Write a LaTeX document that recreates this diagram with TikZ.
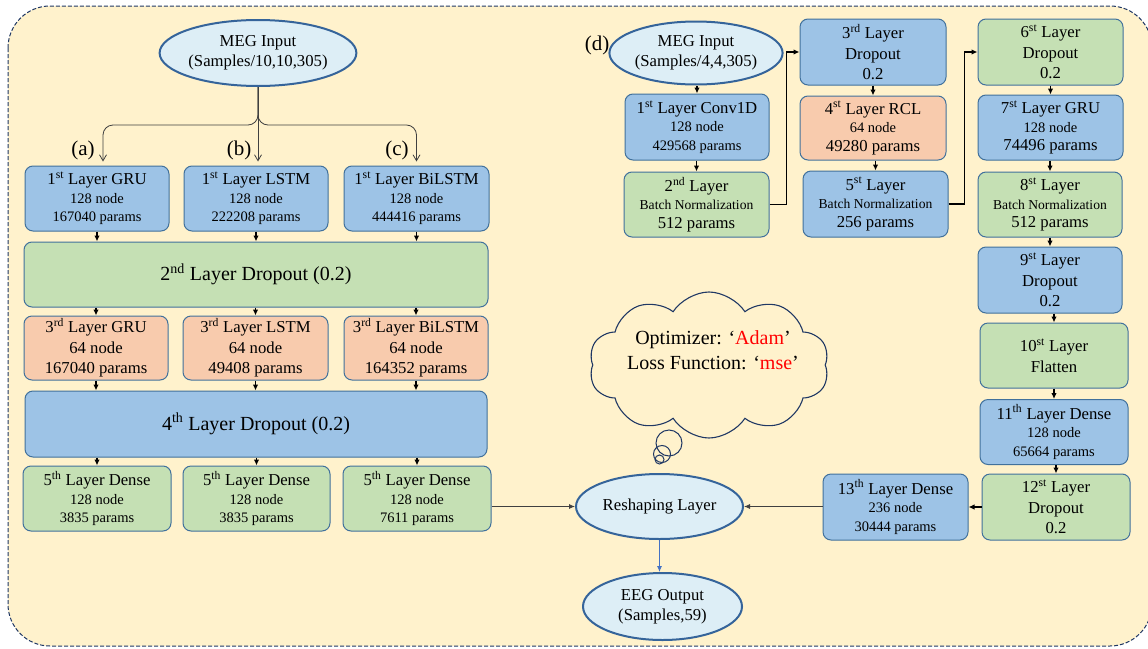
\documentclass[tikz,border=0pt]{standalone}
\usepackage{fontspec}
\setmainfont{Liberation Serif}
\usetikzlibrary{shapes.geometric,shapes.symbols,arrows.meta,calc}
\definecolor{bgc}{HTML}{FFF2CC}
\definecolor{bluef}{HTML}{9DC3E6}
\definecolor{greenf}{HTML}{C5E0B4}
\definecolor{orangef}{HTML}{F8CBAD}
\definecolor{bordc}{HTML}{41719C}
\definecolor{ellf}{HTML}{DDEEF6}
\definecolor{ellb}{HTML}{35649A}
\definecolor{navy}{HTML}{203864}
\definecolor{arrblue}{HTML}{4472C4}
\definecolor{grayln}{HTML}{404040}
\newcommand\fA[1]{{\fontsize{16.7}{20}\selectfont #1}}
\newcommand\fC[1]{{\fontsize{13.6}{17}\selectfont #1}}
\newcommand\sps[1]{\textsuperscript{#1}}
\begin{document}
\begin{tikzpicture}[x=1pt,y=-1pt,
  box/.style={rectangle, rounded corners=8pt, draw=bordc, line width=1pt, align=center, inner sep=0pt, font=\fontsize{14.5}{18.5}\selectfont},
  bbox/.style={box, fill=bluef},
  gbox/.style={box, fill=greenf},
  obox/.style={box, fill=orangef},
  big/.style={font=\fontsize{16.7}{20.5}\selectfont},
  ell/.style={ellipse, draw=ellb, line width=2pt, fill=ellf, inner sep=0pt, align=center, font=\fontsize{16.7}{20}\selectfont},
  lbl/.style={font=\fontsize{21}{24}\selectfont, inner sep=0pt},
  arr/.style={-{Latex[length=6pt,width=5.5pt]}, line width=1.3pt, black},
  brarr/.style={-{Straight Barb[length=6pt,width=7pt]}, line width=0.8pt, draw=grayln},
  garr/.style={-{Latex[length=6pt,width=5pt]}, line width=0.8pt, draw=grayln},
  barr/.style={-{Latex[length=6pt,width=5pt]}, line width=0.8pt, draw=arrblue},
]
\useasboundingbox (0,0) rectangle (1148,648);
\draw[fill=bgc, draw=navy, dash pattern=on 4pt off 2pt, line width=1pt, rounded corners=42pt] (8,6) rectangle (1152,646);

% ---------- left part ----------
\node[ell, minimum width=160, minimum height=66] (meg1) at (258,53) {MEG Input\\(Samples/10,10,305)};
\node[lbl] (la) at (83,150) {(a)};
\node[lbl] (lb) at (239,150) {(b)};
\node[lbl] (lc) at (397,150) {(c)};

\node[bbox, minimum width=144, minimum height=65] (gru1) at (97,198.5) {\fA{1\sps{st} Layer GRU}\\128 node\\167040 params};
\node[bbox, minimum width=144, minimum height=65] (lstm1) at (256,198.5) {\fA{1\sps{st} Layer LSTM}\\128 node\\222208 params};
\node[bbox, minimum width=145, minimum height=65] (bilstm1) at (416.5,198.5) {\fA{1\sps{st} Layer BiLSTM}\\128 node\\444416 params};

\node[gbox, minimum width=464, minimum height=65, font=\fontsize{20}{24}\selectfont] (drop2) at (256,274.5) {2\sps{nd} Layer Dropout (0.2)};

\node[obox, big, minimum width=144, minimum height=64] (gru3) at (96,348) {3\sps{rd} Layer GRU\\64 node\\167040 params};
\node[obox, big, minimum width=145, minimum height=64] (lstm3) at (255.5,348) {3\sps{rd} Layer LSTM\\64 node\\49408 params};
\node[obox, big, minimum width=144, minimum height=64] (bilstm3) at (416,348) {3\sps{rd} Layer BiLSTM\\64 node\\164352 params};

\node[bbox, minimum width=462, minimum height=66, font=\fontsize{20}{24}\selectfont] (drop4) at (256,424) {4\sps{th} Layer Dropout (0.2)};

\node[gbox, minimum width=148, minimum height=65] (den5a) at (97,498.5) {\fA{5\sps{th} Layer Dense}\\128 node\\3835 params};
\node[gbox, minimum width=147, minimum height=65] (den5b) at (256.5,498.5) {\fA{5\sps{th} Layer Dense}\\128 node\\3835 params};
\node[gbox, minimum width=148, minimum height=65] (den5c) at (417,498.5) {\fA{5\sps{th} Layer Dense}\\128 node\\7611 params};

% branch connectors
\coordinate (br) at (258,125);
\coordinate (tipa) at ($(gru1.north)+(6,-4)$);
\coordinate (tipc) at ($(bilstm1.north)+(0,-4)$);
\draw[brarr, rounded corners=10pt] (meg1.south) -- (meg1.south |- br) -- (tipa |- br) -- (tipa);
\draw[brarr, rounded corners=10pt] (meg1.south) -- (meg1.south |- br) -- (tipc |- br) -- (tipc);
\draw[brarr] (meg1.south) -- ($(meg1.south |- lstm1.north)+(0,-4)$);

% short arrows
\foreach \a/\b in {gru1/drop2, lstm1/drop2, bilstm1/drop2, gru3/drop4, lstm3/drop4, bilstm3/drop4}
  \draw[arr] (\a.south) -- (\a.south |- \b.north);
\foreach \a/\b in {drop2/gru3, drop2/lstm3, drop2/bilstm3, drop4/den5a, drop4/den5b, drop4/den5c}
  \draw[arr] (\b.north |- \a.south) -- (\b.north);

% ---------- right part ----------
\node[lbl] (ld) at (597,45) {(d)};
\node[ell, minimum width=160, minimum height=63] (meg2) at (696,53) {MEG Input\\(Samples/4,4,305)};
\node[bbox, minimum width=144, minimum height=66] (conv1) at (697,127) {\fA{1\sps{st} Layer Conv1D}\\128 node\\429568 params};
\node[gbox, minimum width=145, minimum height=65] (bn2) at (696.5,204.5) {\fA{2\sps{nd} Layer}\\\fC{Batch Normalization}\\\fA{512 params}};
\node[bbox, big, minimum width=146, minimum height=66] (drop3) at (873,52) {3\sps{rd} Layer\\Dropout\\0.2};
\node[obox, minimum width=146, minimum height=64] (rcl4) at (873,128) {\fA{4\sps{st} Layer RCL}\\64 node\\\fA{49280 params}};
\node[bbox, minimum width=145, minimum height=66] (bn5) at (875.5,204) {\fA{5\sps{st} Layer}\\\fC{Batch Normalization}\\\fA{256 params}};
\node[gbox, big, minimum width=145, minimum height=66] (drop6) at (1050.5,52) {6\sps{st} Layer\\Dropout\\0.2};
\node[bbox, minimum width=145, minimum height=65] (gru7) at (1050.5,127.5) {\fA{7\sps{st} Layer GRU}\\128 node\\\fA{74496 params}};
\node[gbox, minimum width=144, minimum height=65] (bn8) at (1050,204.5) {\fA{8\sps{st} Layer}\\\fC{Batch Normalization}\\\fA{512 params}};
\node[bbox, big, minimum width=144, minimum height=66] (drop9) at (1050,280) {9\sps{st} Layer\\Dropout\\0.2};
\node[gbox, big, minimum width=148, minimum height=65] (flat10) at (1054,355.5) {10\sps{st} Layer\\Flatten};
\node[bbox, minimum width=148, minimum height=65] (den11) at (1054,432) {\fA{11\sps{th} Layer Dense}\\128 node\\65664 params};
\node[gbox, big, minimum width=148, minimum height=66] (drop12) at (1056,507) {12\sps{st} Layer\\Dropout\\0.2};
\node[bbox, minimum width=145, minimum height=66] (den13) at (895.5,507) {\fA{13\sps{th} Layer Dense}\\236 node\\30444 params};

\node[ell, minimum width=167, minimum height=65] (resh) at (659.5,506.5) {Reshaping Layer};
\node[ell, minimum width=159, minimum height=67] (eeg) at (662.5,606.5) {EEG Output\\(Samples,59)};

% cloud
\node[cloud, cloud puffs=10, cloud puff arc=115, aspect=1.6, draw=navy, line width=1.1pt, fill=bgc, minimum width=240, minimum height=146, inner sep=0pt] (cl) at (709,365) {};
\node[font=\fontsize{20}{25}\selectfont, align=center] (cltxt) at (713,350) {Optimizer: `\textcolor{red}{Adam}'\\Loss Function: `\textcolor{red}{mse}'};
\node[circle, draw=navy, line width=1pt, minimum size=26, inner sep=0pt] (b1) at (669,443) {};
\node[circle, draw=navy, line width=1pt, minimum size=17, inner sep=0pt] (b2) at (662,454) {};
\node[circle, draw=navy, line width=1pt, minimum size=9, inner sep=0pt] (b3) at (659.5,459.5) {};

% right arrows
\foreach \a/\b in {meg2/conv1, conv1/bn2, drop3/rcl4, rcl4/bn5, drop6/gru7, gru7/bn8, bn8/drop9, drop9/flat10, flat10/den11, den11/drop12}
  \draw[arr] (\b.north |- \a.south) -- (\b.north);
\draw[arr] (bn2.east) -- ++(17,0) |- (drop3.west);
\draw[arr] (bn5.east) -- ++(16,0) |- (drop6.west);
\draw[arr] (drop12.west) -- (den13.east);
\draw[garr] (den13.west |- resh.east) -- (resh.east);
\draw[garr] (den5c.east |- resh.west) -- (resh.west);
\draw[barr] (resh.south) -- (resh.south |- eeg.north);
\end{tikzpicture}
\end{document}
